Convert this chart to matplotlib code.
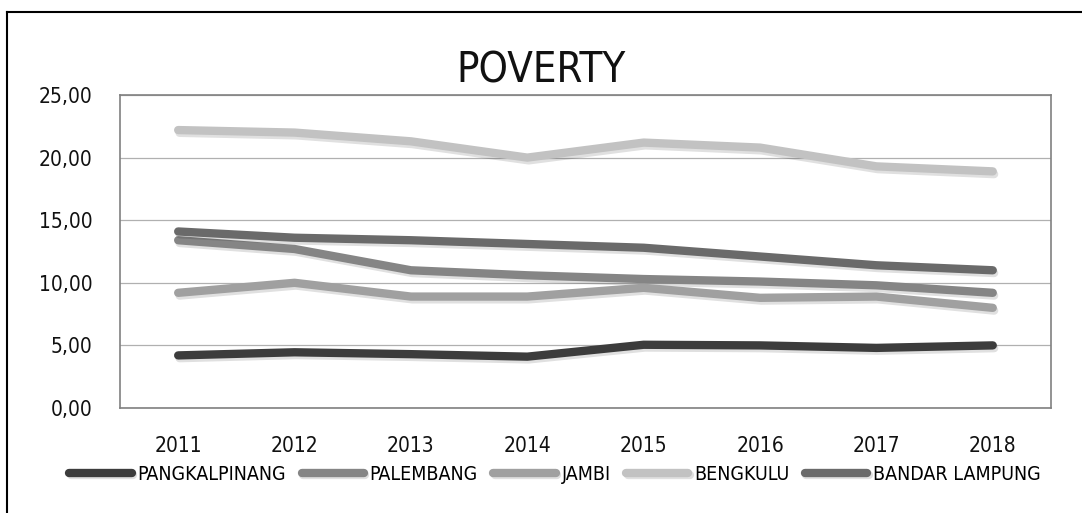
import numpy as np
import matplotlib.pyplot as plt
import matplotlib.patheffects as pe
from matplotlib.lines import Line2D
from matplotlib.ticker import FuncFormatter

years = ['2011', '2012', '2013', '2014', '2015', '2016', '2017', '2018']
pangkalpinang = [4.2, 4.45, 4.3, 4.1, 5.05, 5.0, 4.8, 5.0]
palembang = [13.4, 12.7, 11.0, 10.6, 10.3, 10.1, 9.8, 9.2]
jambi = [9.2, 10.0, 8.9, 8.9, 9.6, 8.8, 8.9, 8.0]
bengkulu = [22.2, 22.0, 21.3, 20.0, 21.2, 20.8, 19.3, 18.9]
bandar_lampung = [14.1, 13.6, 13.4, 13.1, 12.8, 12.1, 11.4, 11.0]

names = ['PANGKALPINANG', 'PALEMBANG', 'JAMBI', 'BENGKULU', 'BANDAR LAMPUNG']
series = [pangkalpinang, palembang, jambi, bengkulu, bandar_lampung]
colors = ['#3c3c3c', '#858585', '#a0a0a0', '#c2c2c2', '#6a6a6a']

plt.rcParams['font.family'] = ['DejaVu Sans Condensed', 'Liberation Sans Narrow', 'DejaVu Sans']
plt.rcParams['font.stretch'] = 'condensed'

fig = plt.figure(figsize=(10.82, 5.13), dpi=100)
ax = fig.add_axes([0.1109, 0.2047, 0.8604, 0.6101])

x = np.arange(len(years))
shadow = [pe.SimpleLineShadow(offset=(1, -2), shadow_color='k', alpha=0.12), pe.Normal()]
for vals, name, c in zip(series, names, colors):
    ax.plot(x, vals, color=c, lw=6, solid_capstyle='round', solid_joinstyle='round',
            label=name, path_effects=shadow)

ax.set_xlim(-0.5, 7.5)
ax.set_ylim(0, 25)
ax.set_yticks([0, 5, 10, 15, 20, 25])
ax.yaxis.set_major_formatter(FuncFormatter(lambda v, p: f'{v:.2f}'.replace('.', ',')))
ax.set_xticks(x)
ax.set_xticklabels(years)
ax.tick_params(length=0, labelsize=15, colors='#111111')
ax.tick_params(axis='y', pad=20)
ax.tick_params(axis='x', pad=20)
ax.grid(axis='y', color='#b0b0b0', lw=0.9)
ax.set_axisbelow(True)
for s in ax.spines.values():
    s.set_color('#808080')
    s.set_linewidth(1.2)

fig.text(0.5, 0.84, 'POVERTY', ha='center', fontsize=30, color='#111111')

handles = [Line2D([], [], color=c, lw=6, solid_capstyle='round', path_effects=shadow) for c in colors]
fig.legend(handles, names, loc='center', bbox_to_anchor=(0.513, 0.076), ncol=5, frameon=False,
           fontsize=14, handlelength=3.2, handletextpad=0.3, columnspacing=0.8)

# outer frame
fig.add_artist(Line2D([0.0065, 0.0065], [0, 0.977], color='k', lw=1.5, transform=fig.transFigure))
fig.add_artist(Line2D([0.0065, 1.0], [0.977, 0.977], color='k', lw=1.5, transform=fig.transFigure))

fig.savefig('out.png', dpi=100)
